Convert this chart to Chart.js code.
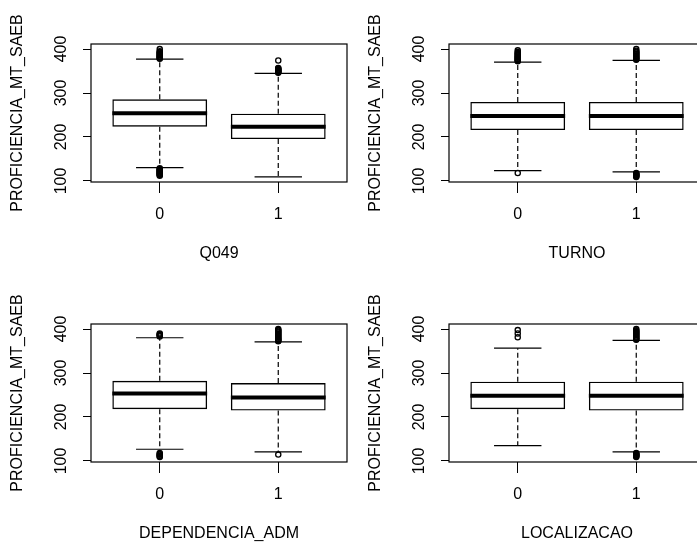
<!DOCTYPE html>
<html lang="en">
<head>
    <meta charset="UTF-8">
    <title>PROFICIENCIA_MT_SAEB por grupo</title>
    <script src="https://cdn.jsdelivr.net/npm/chart.js"></script>
    <style>
        body {
            margin: 0;
            background: white;
            overflow: hidden;
        }
        #grid {
            position: relative;
            width: 697px;
            height: 546px;
            overflow: hidden;
        }
        #grid canvas {
            position: absolute;
        }
    </style>
</head>
<body>
    <div id="grid">
        <canvas id="p0" width="359" height="280" style="left:0;top:0"></canvas>
        <canvas id="p1" width="359" height="280" style="left:358px;top:0"></canvas>
        <canvas id="p2" width="359" height="280" style="left:0;top:280px"></canvas>
        <canvas id="p3" width="359" height="280" style="left:358px;top:280px"></canvas>
    </div>

    <script>
        const panelVars = ['Q049', 'TURNO', 'DEPENDENCIA_ADM', 'LOCALIZACAO'];
        const groupLabels = ['0', '1'];
        const yTicks = [100, 200, 300, 400];
        const yTitle = 'PROFICIENCIA_MT_SAEB';

        // one row per panel: [group 0, group 1]
        const whiskerLow  = [[130.5, 109.3], [123.6, 120.6], [126.7, 120.6], [135.1, 120.6]];
        const quartile1   = [[223.4, 195.2], [215.8, 215.8], [217.6, 214.5], [217.6, 214.5]];
        const medians     = [[253.8, 223.4], [247.8, 247.8], [253.4, 244.3], [248.1, 248.1]];
        const quartile3   = [[285.8, 253.1], [279.7, 279.7], [282.4, 277.1], [280.2, 280.2]];
        const whiskerHigh = [[377.2, 344.5], [370.4, 374.2], [380.2, 371.0], [356.5, 374.0]];

        const outliersQ049 = [
            [112, 113.5, 115, 116, 117.5, 119, 120, 121.5, 123, 124.5, 126, 127.5, 129,
             378, 379, 380.5, 382, 383, 385, 386.5, 388, 390, 391.5, 393, 395, 399.8],
            [346, 347, 348.5, 350, 351, 352.5, 354, 355.5, 357, 374]
        ];
        const outliersTurno = [
            [118.3, 372, 373.5, 375, 376.5, 378, 380, 381.5, 383, 385, 387, 389, 391, 393.5, 397],
            [109.3, 110.5, 112, 113.5, 115, 116.5, 118,
             375.5, 377, 378.5, 380, 382, 384, 386, 388, 390, 392, 394, 396, 399.8]
        ];
        const outliersDependencia = [
            [109.3, 110.5, 112, 114, 116, 118, 383, 385, 386.5, 388, 390],
            [114.5, 372, 373.5, 375, 376.5, 378, 380, 382, 384, 386, 388, 390, 392, 394, 396, 398, 399.8]
        ];
        const outliersLocalizacao = [
            [381.4, 389.9, 397.5],
            [109.3, 110.5, 112, 113.5, 115, 116.5, 118,
             375.5, 377, 379, 381, 383, 385, 387, 389, 391, 393, 395, 397, 399.8]
        ];
        const outliers = [outliersQ049, outliersTurno, outliersDependencia, outliersLocalizacao];

        const font = { family: "'Liberation Sans', Arial, sans-serif", size: 16 };
        const ink = '#000';
        const boxHalf = 0.4;
        const stapleHalf = 0.2;

        // rotated y labels (R style) and the frame around the plot region
        const rFrame = {
            id: 'rFrame',
            afterDraw(chart) {
                const { ctx, chartArea: a, scales: { y } } = chart;
                ctx.save();
                ctx.fillStyle = ink;
                ctx.font = `${font.size}px ${font.family}`;
                ctx.textAlign = 'center';
                ctx.textBaseline = 'middle';
                y.ticks.forEach(t => {
                    ctx.save();
                    ctx.translate(a.left - 29, y.getPixelForValue(t.value));
                    ctx.rotate(-Math.PI / 2);
                    ctx.fillText(String(t.value), 0, 0);
                    ctx.restore();
                });
                ctx.strokeStyle = ink;
                ctx.lineWidth = 1.2;
                ctx.strokeRect(a.left, a.top, a.right - a.left, a.bottom - a.top);
                ctx.restore();
            }
        };

        function segment(points, extra) {
            return Object.assign({
                type: 'line', data: points, borderColor: ink, borderWidth: 1.2,
                pointRadius: 0, fill: false, tension: 0
            }, extra);
        }

        function drawPanel(p) {
            const datasets = [{
                type: 'bar',
                data: groupLabels.map((g, i) => ({ x: i + 1, y: [quartile1[p][i], quartile3[p][i]] })),
                backgroundColor: 'rgba(0,0,0,0)',
                borderColor: ink,
                borderWidth: 1.4,
                borderSkipped: false,
                barPercentage: boxHalf * 2,
                categoryPercentage: 1
            }];

            groupLabels.forEach((g, i) => {
                const x = i + 1;
                const dash = { borderDash: [5, 3] };
                datasets.push(segment([{ x, y: quartile3[p][i] }, { x, y: whiskerHigh[p][i] }], dash));
                datasets.push(segment([{ x, y: quartile1[p][i] }, { x, y: whiskerLow[p][i] }], dash));
                datasets.push(segment([{ x: x - stapleHalf, y: whiskerHigh[p][i] }, { x: x + stapleHalf, y: whiskerHigh[p][i] }]));
                datasets.push(segment([{ x: x - stapleHalf, y: whiskerLow[p][i] }, { x: x + stapleHalf, y: whiskerLow[p][i] }]));
                datasets.push(segment([{ x: x - boxHalf, y: medians[p][i] }, { x: x + boxHalf, y: medians[p][i] }], { borderWidth: 4 }));
                datasets.push({
                    type: 'scatter',
                    data: outliers[p][i].map(v => ({ x, y: v })),
                    pointStyle: 'circle',
                    pointRadius: 2.6,
                    borderWidth: 1.3,
                    borderColor: ink,
                    backgroundColor: 'rgba(0,0,0,0)',
                    showLine: false
                });
            });

            // same axis range rule as R: data range plus 4% on each side
            const all = [].concat(whiskerLow[p], whiskerHigh[p], ...outliers[p]);
            const lo = Math.min(...all), hi = Math.max(...all);
            const pad = (hi - lo) * 0.04;
            const n = groupLabels.length;

            new Chart(document.getElementById('p' + p), {
                type: 'bar',
                data: { datasets },
                plugins: [rFrame],
                options: {
                    responsive: false,
                    devicePixelRatio: 1,
                    animation: false,
                    layout: { padding: { left: 0, right: 12, top: 44, bottom: 0 } },
                    plugins: { legend: { display: false }, tooltip: { enabled: false } },
                    scales: {
                        x: {
                            type: 'linear',
                            min: 0.5 - 0.04 * n,
                            max: n + 0.5 + 0.04 * n,
                            offset: false,
                            afterBuildTicks: s => { s.ticks = groupLabels.map((g, i) => ({ value: i + 1 })); },
                            afterFit: s => { s.height = 98; },
                            ticks: {
                                callback: (v, i) => groupLabels[i],
                                font, color: ink, padding: 12, autoSkip: false, maxRotation: 0
                            },
                            grid: { drawOnChartArea: false, tickLength: 11, color: ink, offset: false },
                            border: { display: false },
                            title: { display: true, text: panelVars[p], font, color: ink, padding: { top: 0, bottom: 17 } }
                        },
                        y: {
                            type: 'linear',
                            min: lo - pad,
                            max: hi + pad,
                            afterBuildTicks: s => { s.ticks = yTicks.map(v => ({ value: v })); },
                            afterFit: s => { s.width = 91; },
                            ticks: { display: false },
                            grid: { drawOnChartArea: false, tickLength: 8, color: ink },
                            border: { display: false },
                            title: { display: true, text: yTitle, font, color: ink, padding: { top: 8, bottom: 0 } }
                        }
                    }
                }
            });
        }

        panelVars.forEach((v, p) => drawPanel(p));
    </script>
</body>
</html>
